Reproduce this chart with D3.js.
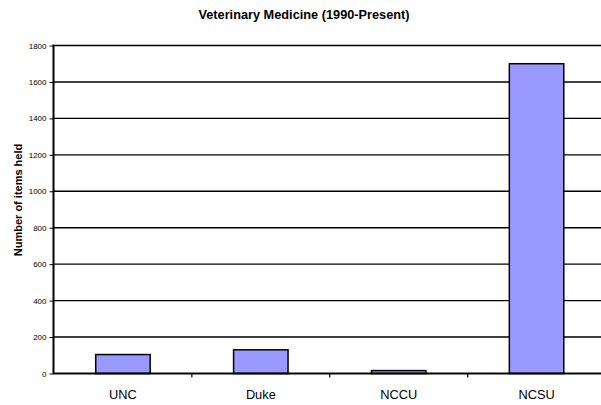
<!DOCTYPE html>
<html><head><meta charset="utf-8">
<script src="https://cdn.jsdelivr.net/npm/d3@7"></script>
<style>body{margin:0;background:#fff}svg{display:block;font-family:Arial,"Liberation Sans",sans-serif}</style>
</head><body>
<svg id="c" width="601" height="405"></svg>
<script>
const categories = ["UNC", "Duke", "NCCU", "NCSU"];
const values = [104, 130, 16, 1700];
const yTicks = [0, 200, 400, 600, 800, 1000, 1200, 1400, 1600, 1800];
const title = "Veterinary Medicine (1990-Present)";
const yLabel = "Number of items held";

const svg = d3.select("#c");
const x0 = 54, x1 = 605.5, yTop = 45.5, yBot = 373.5;
const x = d3.scaleBand().domain(categories).range([x0, x1]).paddingInner(0.605).paddingOuter(0.3025);
const y = d3.scaleLinear().domain([0, 1800]).range([yBot, yTop]);

// gridlines
svg.append("g").selectAll("line").data(yTicks.filter(d => d > 0)).join("line")
  .attr("x1", x0).attr("x2", 601).attr("y1", d => y(d)).attr("y2", d => y(d))
  .attr("stroke", "#000").attr("stroke-width", 1.4);

// bars
svg.append("g").selectAll("rect").data(values).join("rect")
  .attr("x", (d, i) => x(categories[i]))
  .attr("y", d => y(d))
  .attr("width", x.bandwidth())
  .attr("height", d => yBot - y(d))
  .attr("fill", "#9999ff").attr("stroke", "#000").attr("stroke-width", 1.5);

// y axis
const ya = svg.append("g").attr("transform", `translate(${x0 - 0.5},0)`)
  .call(d3.axisLeft(y).tickValues(yTicks).tickSize(4).tickPadding(3).tickFormat(d3.format("d")));
ya.select(".domain").attr("stroke-width", 2).attr("d", `M0,${yTop - 1}V${yBot}`);
ya.selectAll(".tick line").attr("stroke-width", 1);
ya.selectAll("text").attr("font-size", 8).attr("font-family", "Arial, 'Liberation Sans', sans-serif").attr("fill", "#000");

// x axis
const xa = svg.append("g").attr("transform", `translate(0,${yBot})`)
  .call(d3.axisBottom(x).tickSize(0).tickPadding(16));
xa.select(".domain").attr("stroke-width", 2).attr("d", `M${x0 - 1},0H601`);
xa.selectAll("text").attr("font-size", 12.8).attr("font-family", "Arial, 'Liberation Sans', sans-serif").attr("fill", "#000");
// tick marks between categories
svg.append("g").selectAll("line").data(categories.slice(1)).join("line")
  .attr("x1", d => x(d) - x.step() * x.paddingInner() / 2)
  .attr("x2", d => x(d) - x.step() * x.paddingInner() / 2)
  .attr("y1", yBot).attr("y2", yBot + 4)
  .attr("stroke", "#000").attr("stroke-width", 1.2);

svg.append("text").attr("x", 304).attr("y", 18.7).attr("text-anchor", "middle")
  .attr("font-size", 12.75).attr("font-weight", "bold").text(title);

svg.append("text").attr("transform", `translate(21.5,200) rotate(-90)`)
  .attr("text-anchor", "middle").attr("font-size", 11).attr("font-weight", "bold").text(yLabel);
</script>
</body></html>
